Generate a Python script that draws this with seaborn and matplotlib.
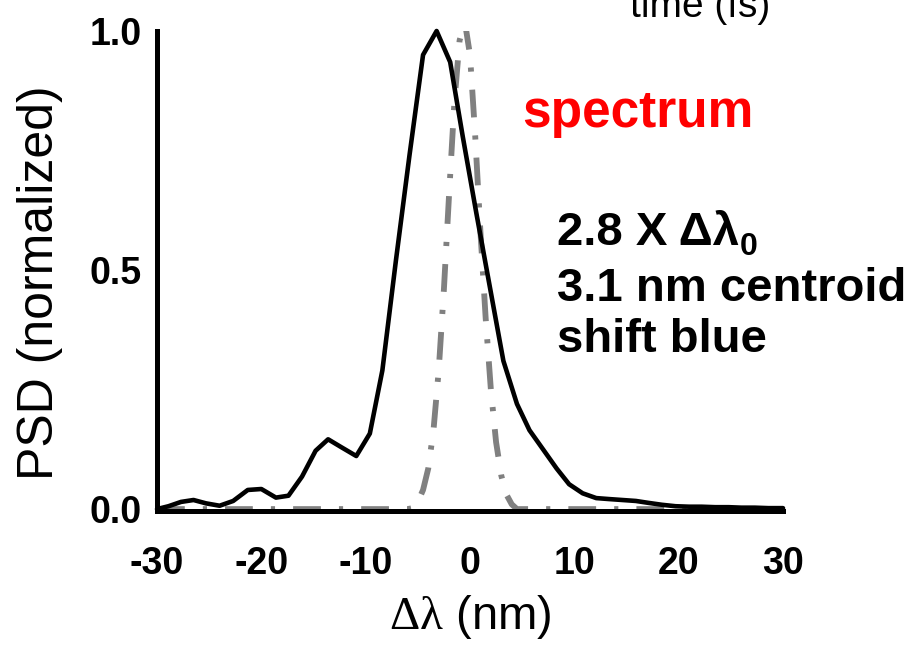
import matplotlib
matplotlib.use("Agg")
import matplotlib.pyplot as plt
from matplotlib.ticker import AutoMinorLocator
import pandas as pd
import seaborn as sns

# Measured spectrum: wavelength shift (nm) and normalized PSD
shift_nm = [-30.0, -28.9, -27.7, -26.5, -25.3, -24.0, -22.7, -21.3, -20.0, -18.6,
            -17.4, -16.1, -14.8, -13.6, -12.3, -10.9, -9.6, -8.4, -7.1, -5.8,
            -4.5, -3.2, -1.9, -0.7, 0.6, 1.9, 3.2, 4.5, 5.7, 7.0,
            8.3, 9.5, 10.8, 12.1, 13.3, 14.6, 15.9, 17.1, 18.4, 19.7,
            21.0, 22.2, 23.5, 24.8, 26.0, 27.3, 28.6, 30.0]
psd = [0.0, 0.006, 0.015, 0.019, 0.012, 0.007, 0.017, 0.040, 0.042, 0.024,
       0.028, 0.068, 0.122, 0.146, 0.129, 0.111, 0.158, 0.29, 0.52, 0.74,
       0.95, 1.0, 0.935, 0.78, 0.62, 0.465, 0.31, 0.22, 0.165, 0.125,
       0.085, 0.052, 0.033, 0.023, 0.021, 0.019, 0.017, 0.013, 0.009, 0.006,
       0.005, 0.005, 0.004, 0.004, 0.003, 0.003, 0.002, 0.002]

# Input (reference) spectrum
ref_shift_nm = [-30.0, -6.0, -5.5, -5.0, -4.5, -4.0, -3.5, -3.0, -2.5, -2.0,
                -1.5, -1.0, -0.5, 0.0, 0.5, 1.0, 1.5, 2.0, 2.5, 3.0,
                3.5, 4.0, 4.5, 30.0]
ref_psd = [0.0, 0.0, 0.002, 0.015, 0.04, 0.085, 0.165, 0.29, 0.46, 0.66,
           0.85, 0.98, 1.02, 0.95, 0.78, 0.58, 0.40, 0.25, 0.14, 0.07,
           0.03, 0.01, 0.0, 0.0]

x_ticks = [-30, -20, -10, 0, 10, 20, 30]
x_tick_labels = ["-30", "-20", "-10", "0", "10", "20", "30"]
y_ticks = [0.0, 0.5, 1.0]
y_tick_labels = ["0.0", "0.5", "1.0"]

sns.set_theme(style="white")
plt.rcParams["font.family"] = ["Liberation Sans", "DejaVu Sans"]
plt.rcParams["mathtext.fontset"] = "custom"
plt.rcParams["mathtext.rm"] = "Liberation Serif"
plt.rcParams["mathtext.it"] = "Liberation Serif"
plt.rcParams["mathtext.bf"] = "Liberation Sans:bold"
plt.rcParams["lines.scale_dashes"] = False
for key in ("text.color", "axes.labelcolor", "xtick.color", "ytick.color",
            "xtick.labelcolor", "ytick.labelcolor", "axes.edgecolor"):
    plt.rcParams[key] = "black"

W, H = 923, 645
fig = plt.figure(figsize=(W / 100, H / 100), dpi=100)
ax = fig.add_axes([157 / W, 1 - 511 / H, (783 - 157) / W, (511 - 31) / H])

meas = pd.DataFrame({"shift": shift_nm, "psd": psd})
ref = pd.DataFrame({"shift": ref_shift_nm, "psd": ref_psd})

sns.lineplot(data=ref, x="shift", y="psd", ax=ax, color="#808080",
             linewidth=4.2, linestyle=(0, (20, 13, 3, 13)), zorder=2)
sns.lineplot(data=meas, x="shift", y="psd", ax=ax, color="black",
             linewidth=3.3, zorder=3, clip_on=False)

ax.set_xlim(-30, 30)
ax.set_ylim(-0.004, 1.0)
ax.set_xticks(x_ticks)
ax.set_xticklabels(x_tick_labels, fontweight="bold", fontsize=27)
ax.set_yticks(y_ticks)
ax.set_yticklabels(y_tick_labels, fontweight="bold", fontsize=27)
ax.xaxis.set_minor_locator(AutoMinorLocator(2))
ax.set_yticks([0.25, 0.75], minor=True)

for side in ("top", "right"):
    ax.spines[side].set_visible(False)
for side in ("left", "bottom"):
    ax.spines[side].set_linewidth(3.6)
    ax.spines[side].set_color("black")
ax.spines["left"].set_bounds(0, 1.0)

ax.tick_params(axis="x", which="major", direction="out", length=14, width=3.6,
               color="black", pad=11)
ax.tick_params(axis="x", which="minor", direction="out", length=7, width=3.6,
               color="black")
ax.tick_params(axis="y", which="major", direction="out", length=6, width=3.6,
               color="black", pad=5)
ax.tick_params(axis="y", which="minor", direction="out", length=3, width=3.6,
               color="black")

ax.set_xlabel(r"$\Delta\lambda$ (nm)", fontsize=34, labelpad=8)
ax.set_ylabel("PSD (normalized)", fontsize=36)
ax.yaxis.set_label_coords(-0.15, 0.475)
ax.grid(False)

def fx(px):
    return px / W

def fy(py):
    return 1 - py / H

fig.text(fx(700), fy(17), "time (fs)", ha="center", va="baseline", fontsize=28)
fig.text(fx(522), fy(127), "spectrum", ha="left", va="baseline", fontsize=37,
         fontweight="bold", color="red")
width_label = fig.text(fx(557), fy(245), "2.8 X Δλ", ha="left", va="baseline",
                       fontsize=34, fontweight="bold")
fig.text(fx(557), fy(301), "3.1 nm centroid", ha="left", va="baseline",
         fontsize=34, fontweight="bold")
fig.text(fx(557), fy(352), "shift blue", ha="left", va="baseline",
         fontsize=34, fontweight="bold")

# subscript placed right after the width label
fig.canvas.draw()
bbox = width_label.get_window_extent()
fig.text(bbox.x1 / W + 1 / W, fy(255), "0", ha="left", va="baseline",
         fontsize=23, fontweight="bold")

fig.savefig("out.png", dpi=100, facecolor="white")
